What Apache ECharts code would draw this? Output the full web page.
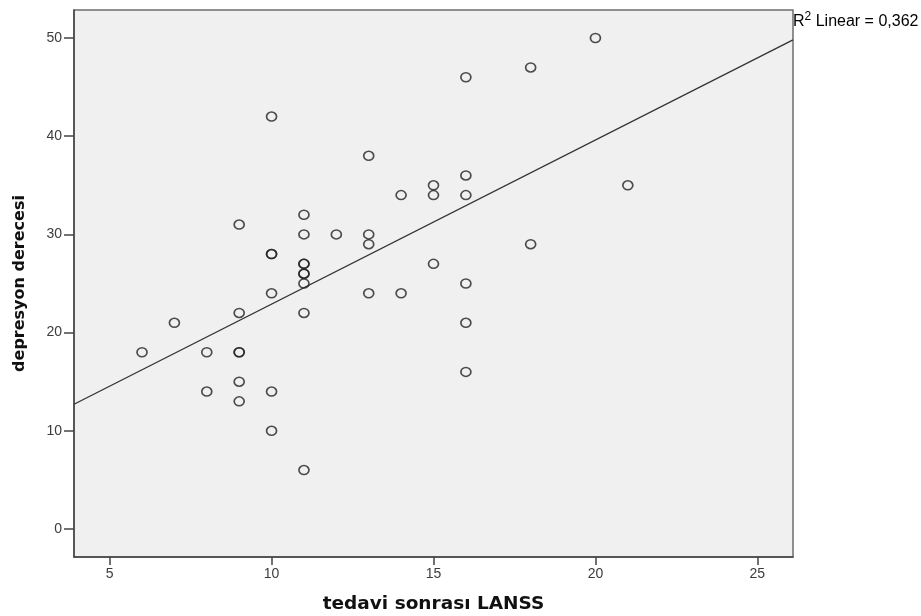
<!DOCTYPE html>
<html>
<head>
<meta charset="utf-8">
<script src="https://cdn.jsdelivr.net/npm/echarts@6/dist/echarts.min.js"></script>
<style>
html,body{margin:0;padding:0;background:#fff;}
#c{width:921px;height:616px;}
</style>
</head>
<body>
<div id="c"></div>
<script>
// LANSS after treatment (x) vs depression score (y)
const lanss = [6, 7, 8, 8, 9, 9, 9, 9, 9, 9, 10, 10, 10, 10, 10, 10, 11, 11, 11, 11, 11, 11, 11, 11, 11, 12, 13, 13, 13, 13, 14, 14, 15, 15, 15, 16, 16, 16, 16, 16, 16, 18, 18, 20, 21];
const depresyon = [18, 21, 18, 14, 31, 22, 18, 18, 15, 13, 42, 28, 28, 24, 14, 10, 32, 30, 27, 27, 26, 26, 25, 22, 6, 30, 38, 30, 29, 24, 34, 24, 35, 34, 27, 46, 36, 34, 25, 21, 16, 47, 29, 50, 35];
const fitX = [3.9, 26.1];
const fitY = [12.7, 49.8];
const xTicks = [5, 10, 15, 20, 25];
const yTicks = [0, 10, 20, 30, 40, 50];
const xTitle = 'tedavi sonrası LANSS';
const yTitle = 'depresyon derecesi';
const r2Label = '0,362';

const points = lanss.map((x, i) => [x, depresyon[i]]);
const fitLine = fitX.map((x, i) => [x, fitY[i]]);

const chart = echarts.init(document.getElementById('c'));
chart.setOption({
  animation: false,
  grid: {
    left: 74, right: 128, top: 10, bottom: 59,
    outerBoundsMode: 'none', containLabel: false,
    show: true, backgroundColor: '#f0f0f0', borderColor: '#6e6e6e', borderWidth: 1.5
  },
  xAxis: {
    type: 'value', min: 3.9, max: 26.1,
    name: xTitle, nameLocation: 'middle', nameGap: 38,
    nameTextStyle: { fontFamily: 'DejaVu Sans', fontWeight: 'bold', fontSize: 18.5, color: '#111' },
    axisLine: { show: true, onZero: false, lineStyle: { color: '#444', width: 1.5 } },
    axisTick: { show: true, length: 8, lineStyle: { color: '#444', width: 1.5 }, customValues: xTicks },
    axisLabel: { customValues: xTicks, fontFamily: 'Liberation Sans', fontSize: 14, color: '#3c3c3c', margin: 10 },
    splitLine: { show: false }
  },
  yAxis: {
    type: 'value', min: -2.85, max: 52.85,
    name: yTitle, nameLocation: 'middle', nameGap: 46, nameRotate: 90,
    nameTextStyle: { fontFamily: 'DejaVu Sans', fontWeight: 'bold', fontSize: 16, color: '#111' },
    axisLine: { show: true, onZero: false, lineStyle: { color: '#444', width: 1.5 } },
    axisTick: { show: true, length: 10, lineStyle: { color: '#444', width: 1.5 }, customValues: yTicks },
    axisLabel: { customValues: yTicks, fontFamily: 'Liberation Sans', fontSize: 14, color: '#3c3c3c', margin: 12 },
    splitLine: { show: false }
  },
  graphic: [{
    type: 'text', left: 793, top: 11,
    style: {
      text: '{r|R}{s|2}{r| Linear = ' + r2Label + '}',
      rich: {
        r: { fontFamily: 'Liberation Sans', fontSize: 16, fill: '#000', verticalAlign: 'bottom', lineHeight: 19 },
        s: { fontFamily: 'Liberation Sans', fontSize: 12, fill: '#000', verticalAlign: 'top', lineHeight: 19, padding: [0, 0, 6, 0] }
      }
    }
  }],
  series: [
    {
      type: 'line', data: fitLine, showSymbol: false, symbol: 'none',
      lineStyle: { color: '#333', width: 1.3 }, silent: true, z: 2
    },
    {
      type: 'scatter', data: points, symbol: 'circle', symbolSize: [10, 9],
      itemStyle: { color: 'rgba(0,0,0,0)', borderColor: '#222', borderWidth: 1.6 }, z: 3
    }
  ]
});
</script>
</body>
</html>
